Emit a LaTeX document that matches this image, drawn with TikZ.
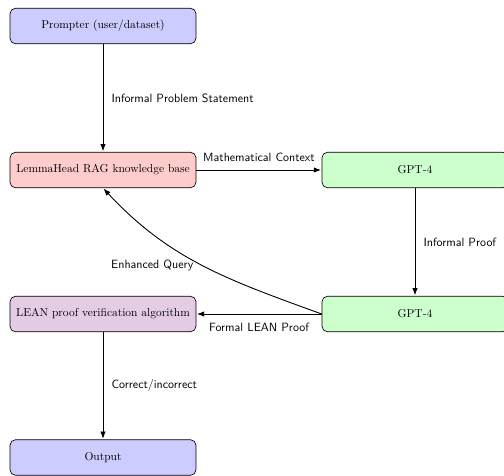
\documentclass[tikz,border=0pt]{standalone}
\usetikzlibrary{arrows.meta}
\begin{document}
\begin{tikzpicture}[x=0.29412mm, y=-0.29412mm,
  box/.style={draw=black, line width=0.55pt, rounded corners=1.6mm,
    minimum width=54.7mm, minimum height=10.45mm, inner sep=2pt,
    font=\fontsize{9.6}{11.5}\selectfont},
  conn/.style={draw=black, line width=0.75pt, -{Latex[length=6pt,width=4.6pt]}, shorten >=0.6pt},
  lab/.style={font=\sffamily}
]
\useasboundingbox (0,0) rectangle (504,475);
\node[box, fill=blue!20]   (prompter) at (103,26)    {Prompter (user/dataset)};
\node[box, fill=red!20]    (lemma)    at (103,170)   {LemmaHead RAG knowledge base};
\node[box, fill=green!20]  (gpt1)     at (415,170)   {GPT-4};
\node[box, fill=green!20]  (gpt2)     at (415,314)   {GPT-4};
\node[box, fill=violet!20] (lean)     at (103,314)   {LEAN proof verification algorithm};
\node[box, fill=blue!20]   (output)   at (103,457.5) {Output};

\draw[conn] (prompter) -- node[lab, right=1.2mm] {Informal Problem Statement} (lemma);
\draw[conn] (lemma) -- node[lab, above=1.3mm] {Mathematical Context} (gpt1);
\draw[conn] (gpt1) -- node[lab, right=1.2mm] {Informal Proof} (gpt2);
\draw[conn] (gpt2) -- node[lab, below=1.3mm] {Formal LEAN Proof} (lean);
\draw[conn] (lean) -- node[lab, right=1.2mm] {Correct/incorrect} (output);
\draw[conn] (gpt2.west) to[out=160, in=-47] node[lab, pos=0.5, left=1.5mm] {Enhanced Query} (lemma.south);
\end{tikzpicture}
\end{document}
